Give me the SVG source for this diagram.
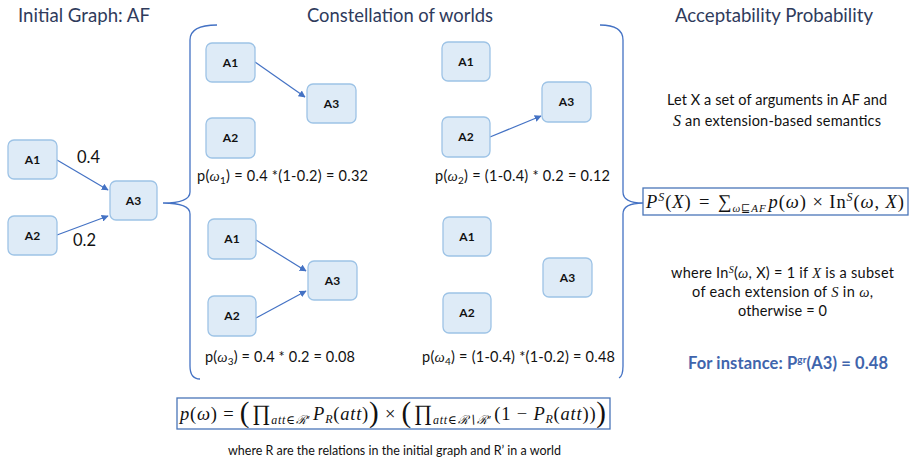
<svg xmlns="http://www.w3.org/2000/svg" width="912" height="465" viewBox="0 0 912 465">
<defs>
<style>
.box{fill:#DEEBF7;stroke:#9DC3E6;stroke-width:1.3}
.bl{font-family:Lato,"Liberation Sans",sans-serif;font-weight:bold;font-size:12px;fill:#111;text-anchor:middle}
.title{font-family:Lato,"Liberation Sans",sans-serif;font-size:18.5px;fill:#2F3B5C}
.t{font-family:Lato,"Liberation Sans",sans-serif;font-size:14.5px;fill:#111}
.m{font-family:"Liberation Serif","DejaVu Serif",serif;font-style:italic}
.edge{stroke:#4472C4;stroke-width:1.2;fill:none;marker-end:url(#ah)}
.brace{stroke:#4472C4;stroke-width:1.3;fill:none}
.fbox{fill:#fff;stroke:#4A76B8;stroke-width:1.3}
.f{font-family:"Liberation Serif","DejaVu Serif",serif;font-size:18.5px;fill:#111}
</style>
<marker id="ah" viewBox="0 0 10 10" refX="9" refY="5" markerWidth="7" markerHeight="7" orient="auto" markerUnits="userSpaceOnUse">
<path d="M0,0 L10,5 L0,10 z" fill="#4472C4"/>
</marker>
</defs>
<rect width="912" height="465" fill="#fff"/>

<text class="title" x="18" y="22" textLength="132" lengthAdjust="spacingAndGlyphs">Initial Graph: AF</text>
<text class="title" x="307" y="22" textLength="186" lengthAdjust="spacingAndGlyphs">Constellation of worlds</text>
<text class="title" x="675" y="22" textLength="198" lengthAdjust="spacingAndGlyphs">Acceptability Probability</text>

<g id="connectors">
<path class="edge" d="M57,160 L108,190"/>
<path class="edge" d="M57,235 L108,216"/>
<path class="edge" d="M255,62 L305,97"/>
<path class="edge" d="M490,137 L541,116"/>
<path class="edge" d="M256,240 L306,271"/>
<path class="edge" d="M256,318 L306,291"/>
<path class="brace" d="M217,25 Q190,25 190,40 L190,192 Q190,203 163,203 Q190,203 190,214 L190,366 Q190,379 200,379"/>
<path class="brace" d="M600,25 Q623,25 623,40 L623,192 Q623,203 643,203 Q623,203 623,214 L623,366 Q623,376 619,378"/>
</g>
<text class="t" x="77" y="163" style="font-size:16.5px">0.4</text>
<text class="t" x="73" y="246" style="font-size:16.5px">0.2</text>

<g id="af-a1"><rect class="box" x="8" y="140" width="49" height="39" rx="6"/><text class="bl" x="32.5" y="164">A1</text></g>
<g id="af-a2"><rect class="box" x="8" y="216" width="49" height="39" rx="6"/><text class="bl" x="32.5" y="240">A2</text></g>
<g id="af-a3"><rect class="box" x="110" y="181" width="47" height="39" rx="6"/><text class="bl" x="133.5" y="205">A3</text></g>

<g id="w1-a1"><rect class="box" x="206" y="43" width="49" height="39" rx="6"/><text class="bl" x="230.5" y="67">A1</text></g>
<g id="w1-a2"><rect class="box" x="206" y="118" width="49" height="40" rx="6"/><text class="bl" x="230.5" y="142">A2</text></g>
<g id="w1-a3"><rect class="box" x="307" y="84" width="49" height="39" rx="6"/><text class="bl" x="331.5" y="108">A3</text></g>

<g id="w2-a1"><rect class="box" x="442" y="42" width="48" height="39" rx="6"/><text class="bl" x="466" y="66">A1</text></g>
<g id="w2-a2"><rect class="box" x="442" y="117" width="48" height="40" rx="6"/><text class="bl" x="466" y="141">A2</text></g>
<g id="w2-a3"><rect class="box" x="542" y="82" width="49" height="40" rx="6"/><text class="bl" x="566.5" y="106">A3</text></g>

<g id="w3-a1"><rect class="box" x="208" y="219" width="48" height="40" rx="6"/><text class="bl" x="232" y="243">A1</text></g>
<g id="w3-a2"><rect class="box" x="208" y="296" width="48" height="40" rx="6"/><text class="bl" x="232" y="320">A2</text></g>
<g id="w3-a3"><rect class="box" x="308" y="261" width="49" height="39" rx="6"/><text class="bl" x="332.5" y="285">A3</text></g>

<g id="w4-a1"><rect class="box" x="443" y="217" width="48" height="39" rx="6"/><text class="bl" x="467" y="241">A1</text></g>
<g id="w4-a2"><rect class="box" x="443" y="293" width="48" height="40" rx="6"/><text class="bl" x="467" y="317">A2</text></g>
<g id="w4-a3"><rect class="box" x="543" y="258" width="49" height="39" rx="6"/><text class="bl" x="567.5" y="282">A3</text></g>

<text class="t" x="197" y="181" textLength="171">p(<tspan class="m">ω</tspan><tspan font-size="10" dy="3">1</tspan><tspan dy="-3">) = 0.4 *(1-0.2) = 0.32</tspan></text>
<text class="t" x="435" y="181" textLength="175">p(<tspan class="m">ω</tspan><tspan font-size="10" dy="3">2</tspan><tspan dy="-3">) = (1-0.4) * 0.2 = 0.12</tspan></text>
<text class="t" x="205" y="362" textLength="150">p(<tspan class="m">ω</tspan><tspan font-size="10" dy="3">3</tspan><tspan dy="-3">) = 0.4 * 0.2 = 0.08</tspan></text>
<text class="t" x="422" y="362" textLength="193">p(<tspan class="m">ω</tspan><tspan font-size="10" dy="3">4</tspan><tspan dy="-3">) = (1-0.4) *(1-0.2) = 0.48</tspan></text>

<text class="t" x="667" y="105" textLength="220">Let X a set of arguments in AF and</text>
<text class="t" x="673" y="126" textLength="208"><tspan class="m" font-size="16">S</tspan> an extension-based semantics</text>

<g id="formula-ps">
<rect class="fbox" x="643" y="188" width="265" height="27"/>
<text class="f" x="646" y="208" textLength="258"><tspan class="m">P</tspan><tspan class="m" font-size="12" dy="-7">S</tspan><tspan dy="7">(</tspan><tspan class="m">X</tspan>) <tspan dx="2">=</tspan> <tspan dx="2" font-size="19">∑</tspan><tspan class="m" font-size="11" dy="4">ω⊑AF</tspan><tspan class="m" dy="-4" dx="2">p</tspan>(<tspan class="m">ω</tspan>) × In<tspan class="m" font-size="12" dy="-7">S</tspan><tspan dy="7">(</tspan><tspan class="m">ω</tspan>, <tspan class="m">X</tspan>)</text>
</g>

<text class="t" x="671" y="278" textLength="223">where In<tspan class="m" font-size="10" dy="-5">S</tspan><tspan dy="5">(</tspan><tspan class="m">ω</tspan>, X) = 1 if <tspan class="m">X</tspan> is a subset</text>
<text class="t" x="692" y="297" textLength="181">of each extension of <tspan class="m">S</tspan> in <tspan class="m">ω</tspan>,</text>
<text class="t" x="738" y="316" textLength="89">otherwise = 0</text>
<text class="t" x="688" y="369" textLength="200" style="font-weight:bold;font-size:16.5px;fill:#4064AC">For instance: P<tspan font-size="10" dy="-6">gr</tspan><tspan dy="6">(A3) = 0.48</tspan></text>

<g id="formula-pw">
<rect class="fbox" x="177" y="398" width="433" height="31"/>
<text class="f" x="180" y="420" textLength="426"><tspan class="m">p</tspan>(<tspan class="m">ω</tspan>) = <tspan font-size="29" dy="2">(</tspan><tspan font-size="22" dy="-2" dx="2">∏</tspan><tspan class="m" font-size="12" dy="4">att∈ℛ′</tspan><tspan class="m" dy="-4" dx="3">P</tspan><tspan class="m" font-size="12" dy="3">R</tspan><tspan dy="-3">(</tspan><tspan class="m">att</tspan>)<tspan font-size="29" dy="2">)</tspan><tspan dy="-2"> × </tspan><tspan font-size="29" dy="2">(</tspan><tspan font-size="22" dy="-2" dx="2">∏</tspan><tspan class="m" font-size="12" dy="4">att∈ℛ∖ℛ′</tspan><tspan dy="-4" dx="3">(1 − </tspan><tspan class="m">P</tspan><tspan class="m" font-size="12" dy="3">R</tspan><tspan dy="-3">(</tspan><tspan class="m">att</tspan>))<tspan font-size="29" dy="2">)</tspan></text>
</g>

<text class="t" x="228" y="455" textLength="333" lengthAdjust="spacingAndGlyphs" style="font-size:14px">where R are the relations in the initial graph and R’ in a world</text>
</svg>
